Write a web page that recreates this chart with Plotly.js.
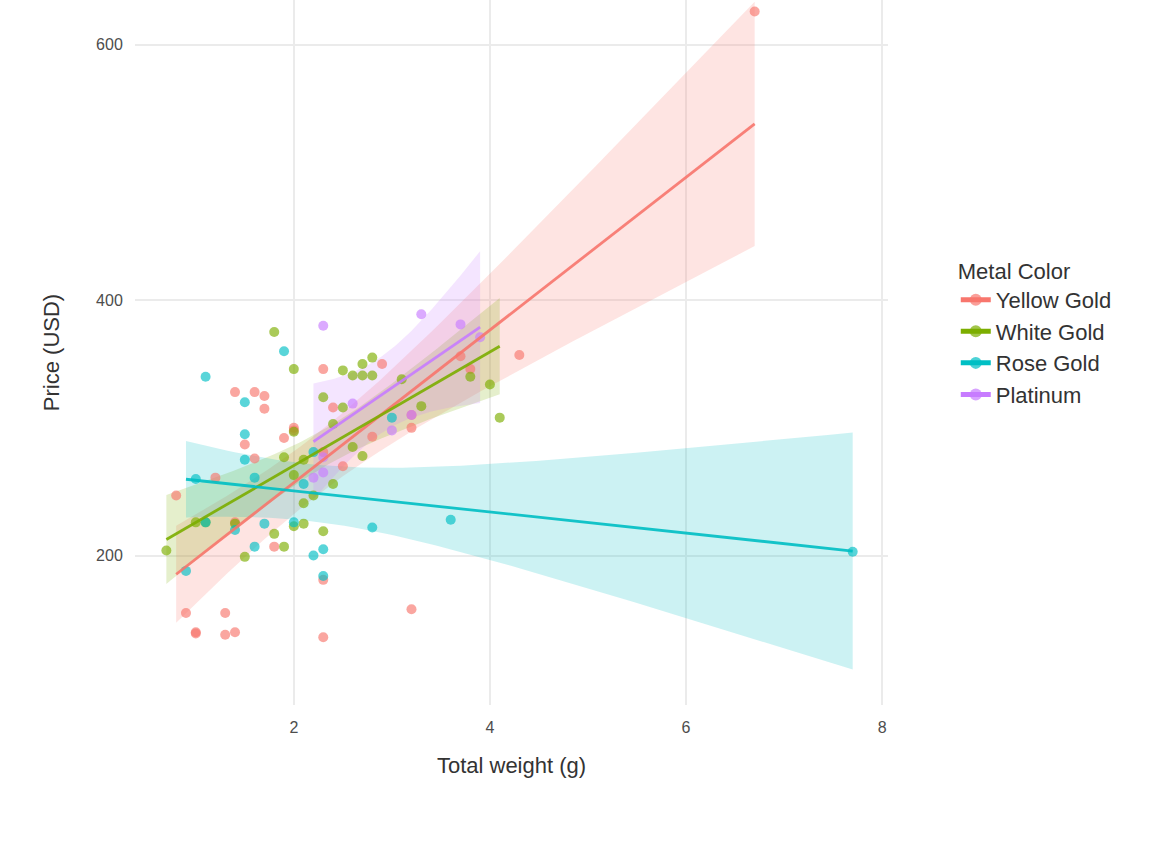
<!DOCTYPE html><html><head><script src="https://cdn.plot.ly/plotly-3.0.1.min.js"></script></head><body style="margin:0"><div id="c" style="width:1152px;height:847px"></div><script>
const seriesNames=["Yellow Gold","White Gold","Rose Gold","Platinum"];
const colors=["#F8766D","#7CAE00","#00BFC4","#C77CFF"];
const yellowX=[0.8,0.9,1.0,1.0,1.3,1.3,1.4,1.4,1.6,1.7,1.7,1.5,1.6,1.9,2.0,2.0,1.8,2.3,2.3,2.3,2.5,2.4,2.9,3.2,3.2,3.7,4.3,6.7,1.4,2.3,2.8,3.8,3.2,1.2];
const yellowY=[247,155,140,139,155,138,140,328,328,325,315,287,276,292,300,298,207,346,181,136,270,316,350,300,158,356,357,626,226,281,293,346,310,261];
const whiteX=[0.7,1.0,1.1,1.4,1.5,1.8,1.8,1.9,2.0,2.0,2.0,2.1,2.1,2.1,2.3,2.3,2.4,2.5,2.5,2.6,2.7,2.7,2.8,2.8,2.7,2.6,3.1,3.3,3.8,4.0,4.1,2.2,2.4,1.9,2.0];
const whiteY=[204,226,226,225,199,375,217,207,346,297,223,225,241,275,219,324,256,345,316,341,350,278,355,341,341,285,338,317,340,334,308,247,303,277,263];
const roseX=[0.9,1.0,1.1,1.5,1.5,1.5,1.4,1.6,1.7,1.9,2.0,2.1,2.2,2.3,2.3,2.2,2.8,3.0,3.6,7.7,1.6,1.1];
const roseY=[188,260,340,320,295,275,220,207,225,360,226,256,200,205,184,281,222,308,228,203,261,226];
const platX=[2.3,3.3,3.7,3.9,2.6,2.3,2.3,3.2,3.0,2.2];
const platY=[380,389,381,371,319,265,277,310,298,261];
const allX=[yellowX,whiteX,roseX,platX], allY=[yellowY,whiteY,roseY,platY];
const traces=[];
function fit(xs,ys){
  const n=xs.length,mx=xs.reduce((a,b)=>a+b)/n,my=ys.reduce((a,b)=>a+b)/n;
  let sxx=0,sxy=0;xs.forEach((x,i)=>{sxx+=(x-mx)**2;sxy+=(x-mx)*(ys[i]-my);});
  const b=sxy/sxx,a=my-b*mx;let sse=0;xs.forEach((x,i)=>{sse+=(ys[i]-a-b*x)**2;});
  const df=n-2,s=Math.sqrt(sse/df),t=1.96+2.5/df+2.5/df/df;
  const lo=Math.min(...xs),hi=Math.max(...xs),gx=[],gy=[],up=[],dn=[];
  for(let k=0;k<=80;k++){const x=lo+(hi-lo)*k/80,y=a+b*x,se=s*Math.sqrt(1/n+(x-mx)**2/sxx);gx.push(x);gy.push(y);up.push(y+t*se);dn.push(y-t*se);}
  return {gx,gy,up,dn};
}
seriesNames.forEach((nm,i)=>{
  const f=fit(allX[i],allY[i]);
  traces.push({x:f.gx.concat(f.gx.slice().reverse()),y:f.up.concat(f.dn.slice().reverse()),fill:'toself',fillcolor:colors[i]+'33',line:{width:0},mode:'lines',showlegend:false,hoverinfo:'skip'});
});
seriesNames.forEach((nm,i)=>{
  traces.push({x:allX[i],y:allY[i],mode:'markers',marker:{color:colors[i],size:10,opacity:0.65},showlegend:false});
});
seriesNames.forEach((nm,i)=>{
  const f=fit(allX[i],allY[i]);
  traces.push({x:f.gx,y:f.gy,mode:'lines',showlegend:false,line:{color:colors[i],width:2.8},opacity:0.9});
});
seriesNames.forEach((nm,i)=>{
  traces.push({x:[null],y:[null],mode:'lines+markers',name:nm,line:{color:colors[i],width:2.8},marker:{color:colors[i],size:10,opacity:0.7}});
});
const layout={width:1152,height:847,margin:{l:135,r:264,t:0,b:142},paper_bgcolor:'white',plot_bgcolor:'white',
 font:{family:'Liberation Sans, Arial',color:'#333'},
 xaxis:{range:[0.38,8.06],tickvals:[2,4,6,8],gridcolor:'#ebebeb',gridwidth:1.5,zeroline:false,showline:false,ticklen:8,tickcolor:'rgba(0,0,0,0)',tickfont:{size:16,color:'#4d4d4d'},title:{text:'Total weight (g)',font:{size:22,color:'#333'},standoff:22}},
 yaxis:{range:[83,635],tickvals:[200,400,600],gridcolor:'#ebebeb',gridwidth:1.5,zeroline:false,showline:false,ticklen:8,tickcolor:'rgba(0,0,0,0)',tickfont:{size:16,color:'#4d4d4d'},title:{text:'Price (USD)',font:{size:22,color:'#333'},standoff:30}},
 legend:{x:1.09,y:0.645,xanchor:'left',yanchor:'top',font:{size:22,color:'#333'},title:{text:'Metal Color',font:{size:22,color:'#333'}},itemsizing:'constant'}
};
Plotly.newPlot('c',traces,layout,{displayModeBar:false});
</script></body></html>
